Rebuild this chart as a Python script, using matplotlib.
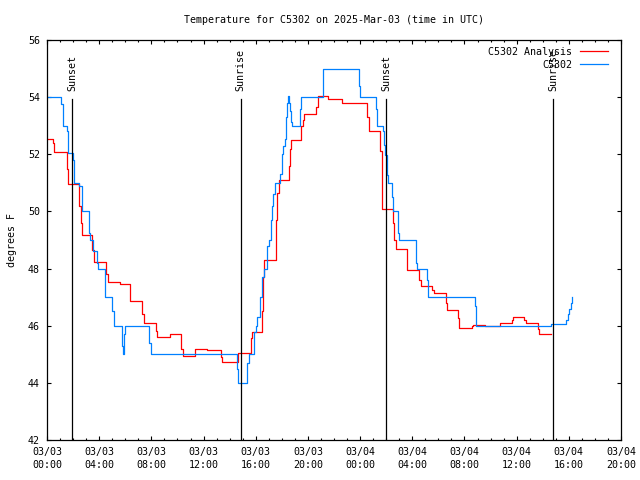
import matplotlib
matplotlib.use("Agg")
import matplotlib.pyplot as plt

# hours since 03/03 00:00 UTC, value holds until next point
anl_hours = [0.0, 0.48, 0.54, 1.5, 1.61, 2.48, 2.6, 2.71, 3.47, 3.6, 4.55, 4.65,
             5.6, 6.38, 7.32, 7.45, 8.36, 8.43, 9.4, 10.3, 10.4, 11.35, 12.3,
             13.3, 13.4, 14.66, 15.6, 15.68, 16.5, 16.58, 16.65, 17.52, 17.58,
             17.65, 17.75, 18.55, 18.62, 18.7, 19.5, 19.6, 19.72, 20.6, 20.74,
             21.55, 22.6, 24.55, 24.7, 25.55, 25.65, 25.7, 26.52, 26.62, 26.72,
             27.6, 28.53, 28.66, 29.55, 29.68, 30.55, 30.68, 31.52, 31.6, 32.55,
             32.67, 33.56, 34.7, 35.65, 35.74, 36.6, 36.7, 37.65, 37.73, 38.6]
anl_temp = [52.52, 52.4, 52.09, 51.5, 50.95, 50.2, 49.6, 49.17, 48.65, 48.24, 47.8, 47.54,
            47.47, 46.86, 46.4, 46.08, 45.8, 45.59, 45.7, 45.2, 44.94, 45.2, 45.15,
            44.9, 44.72, 45.03, 45.56, 45.77, 46.5, 47.7, 48.3, 49.0, 49.7,
            50.63, 51.1, 51.6, 52.2, 52.5, 53.0, 53.2, 53.4, 53.67, 54.04,
            53.95, 53.8, 53.3, 52.8, 52.13, 50.8, 50.1, 49.6, 49.0, 48.7,
            47.95, 47.6, 47.39, 47.25, 47.16, 46.8, 46.55, 46.26, 45.91, 46.0,
            46.03, 45.99, 46.08, 46.2, 46.29, 46.2, 46.08, 45.9, 45.7, 45.7]

obs_hours = [0.0, 1.05, 1.2, 1.53, 1.63, 2.0, 2.1, 2.46, 2.65, 3.19, 3.3, 3.5, 3.8, 3.88,
             4.45, 5.0, 5.1, 5.72, 5.8, 5.9, 5.98, 7.84, 7.95, 14.55, 14.64, 15.35,
             15.45, 15.89, 16.0, 16.1, 16.35, 16.5, 16.6, 16.9, 17.0, 17.15, 17.25,
             17.35, 17.45, 17.85, 17.98, 18.1, 18.23, 18.3, 18.4, 18.5, 18.57, 18.62,
             18.7, 18.75, 19.4, 19.46, 21.15, 23.92, 23.98, 25.22, 25.3, 25.72, 25.8,
             25.88, 26.05, 26.15, 26.45, 26.54, 26.9, 27.0, 28.3, 28.4, 29.15, 29.22,
             32.8, 32.87, 38.6, 39.8, 39.95, 40.05, 40.15, 40.25]
obs_temp = [54.0, 53.75, 53.0, 52.8, 52.05, 51.8, 51.0, 50.9, 50.0, 49.25, 49.0, 48.6, 48.2, 48.0,
            47.0, 46.5, 46.0, 45.3, 45.0, 45.7, 46.0, 45.4, 45.0, 44.5, 44.0, 44.7,
            45.0, 45.77, 46.0, 46.3, 47.0, 47.7, 48.0, 48.8, 49.0, 49.7, 50.2,
            50.6, 51.0, 51.3, 52.0, 52.29, 52.53, 53.3, 53.8, 54.05, 53.8, 53.5,
            53.14, 53.0, 53.6, 54.0, 55.0, 54.4, 54.0, 53.6, 53.0, 52.8, 52.33,
            51.97, 51.27, 51.0, 50.5, 50.0, 49.25, 49.0, 48.2, 48.0, 47.6, 47.0,
            46.7, 46.0, 46.05, 46.2, 46.4, 46.6, 46.8, 47.0]

sun_hours = [1.92, 14.84, 25.98, 38.8]
sun_labels = ["Sunset", "Sunrise", "Sunset", "Sunrise"]

tick_hours = list(range(0, 45, 4))
tick_labels = ["03/03\n00:00", "03/03\n04:00", "03/03\n08:00", "03/03\n12:00",
               "03/03\n16:00", "03/03\n20:00", "03/04\n00:00", "03/04\n04:00",
               "03/04\n08:00", "03/04\n12:00", "03/04\n16:00", "03/04\n20:00"]

plt.rcParams['font.family'] = 'DejaVu Sans Mono'
plt.rcParams['font.size'] = 7.2

fig = plt.figure(figsize=(6.4, 4.8), dpi=100)
ax = fig.add_axes([47 / 640, 40 / 480, 574 / 640, 400 / 480])

ax.step(anl_hours, anl_temp, where='post', color='#ff0000', lw=0.9, label='C5302 Analysis')
ax.step(obs_hours, obs_temp, where='post', color='#0080ff', lw=0.9, label='C5302')

for h, lab in zip(sun_hours, sun_labels):
    ax.plot([h, h], [42, 53.93], color='black', lw=0.9)
    ax.text(h, 54.2, lab, rotation=90, ha='center', va='bottom')

ax.set_xlim(0, 44)
ax.set_ylim(42, 56)
ax.set_xticks(tick_hours)
ax.set_xticklabels(tick_labels, linespacing=1.35)
ax.set_xticks(range(0, 45), minor=True)
ax.set_yticks(range(42, 57, 2))
ax.tick_params(which='both', direction='in', top=True, right=True, width=0.8)
ax.tick_params(which='major', length=3.0, pad=5)
ax.tick_params(which='minor', length=1.5)
for s in ax.spines.values():
    s.set_linewidth(0.9)

ax.set_ylabel('degrees F', labelpad=8)
ax.set_title('Temperature for C5302 on 2025-Mar-03 (time in UTC)', fontsize=7.2, pad=12)

ax.legend(loc='upper right', bbox_to_anchor=(1 - 6 / 574, 1), markerfirst=False,
          frameon=False, handlelength=2.8, handletextpad=0.8, borderaxespad=0.4,
          borderpad=0.3, labelspacing=0.3)

fig.savefig('out.png', dpi=100)
